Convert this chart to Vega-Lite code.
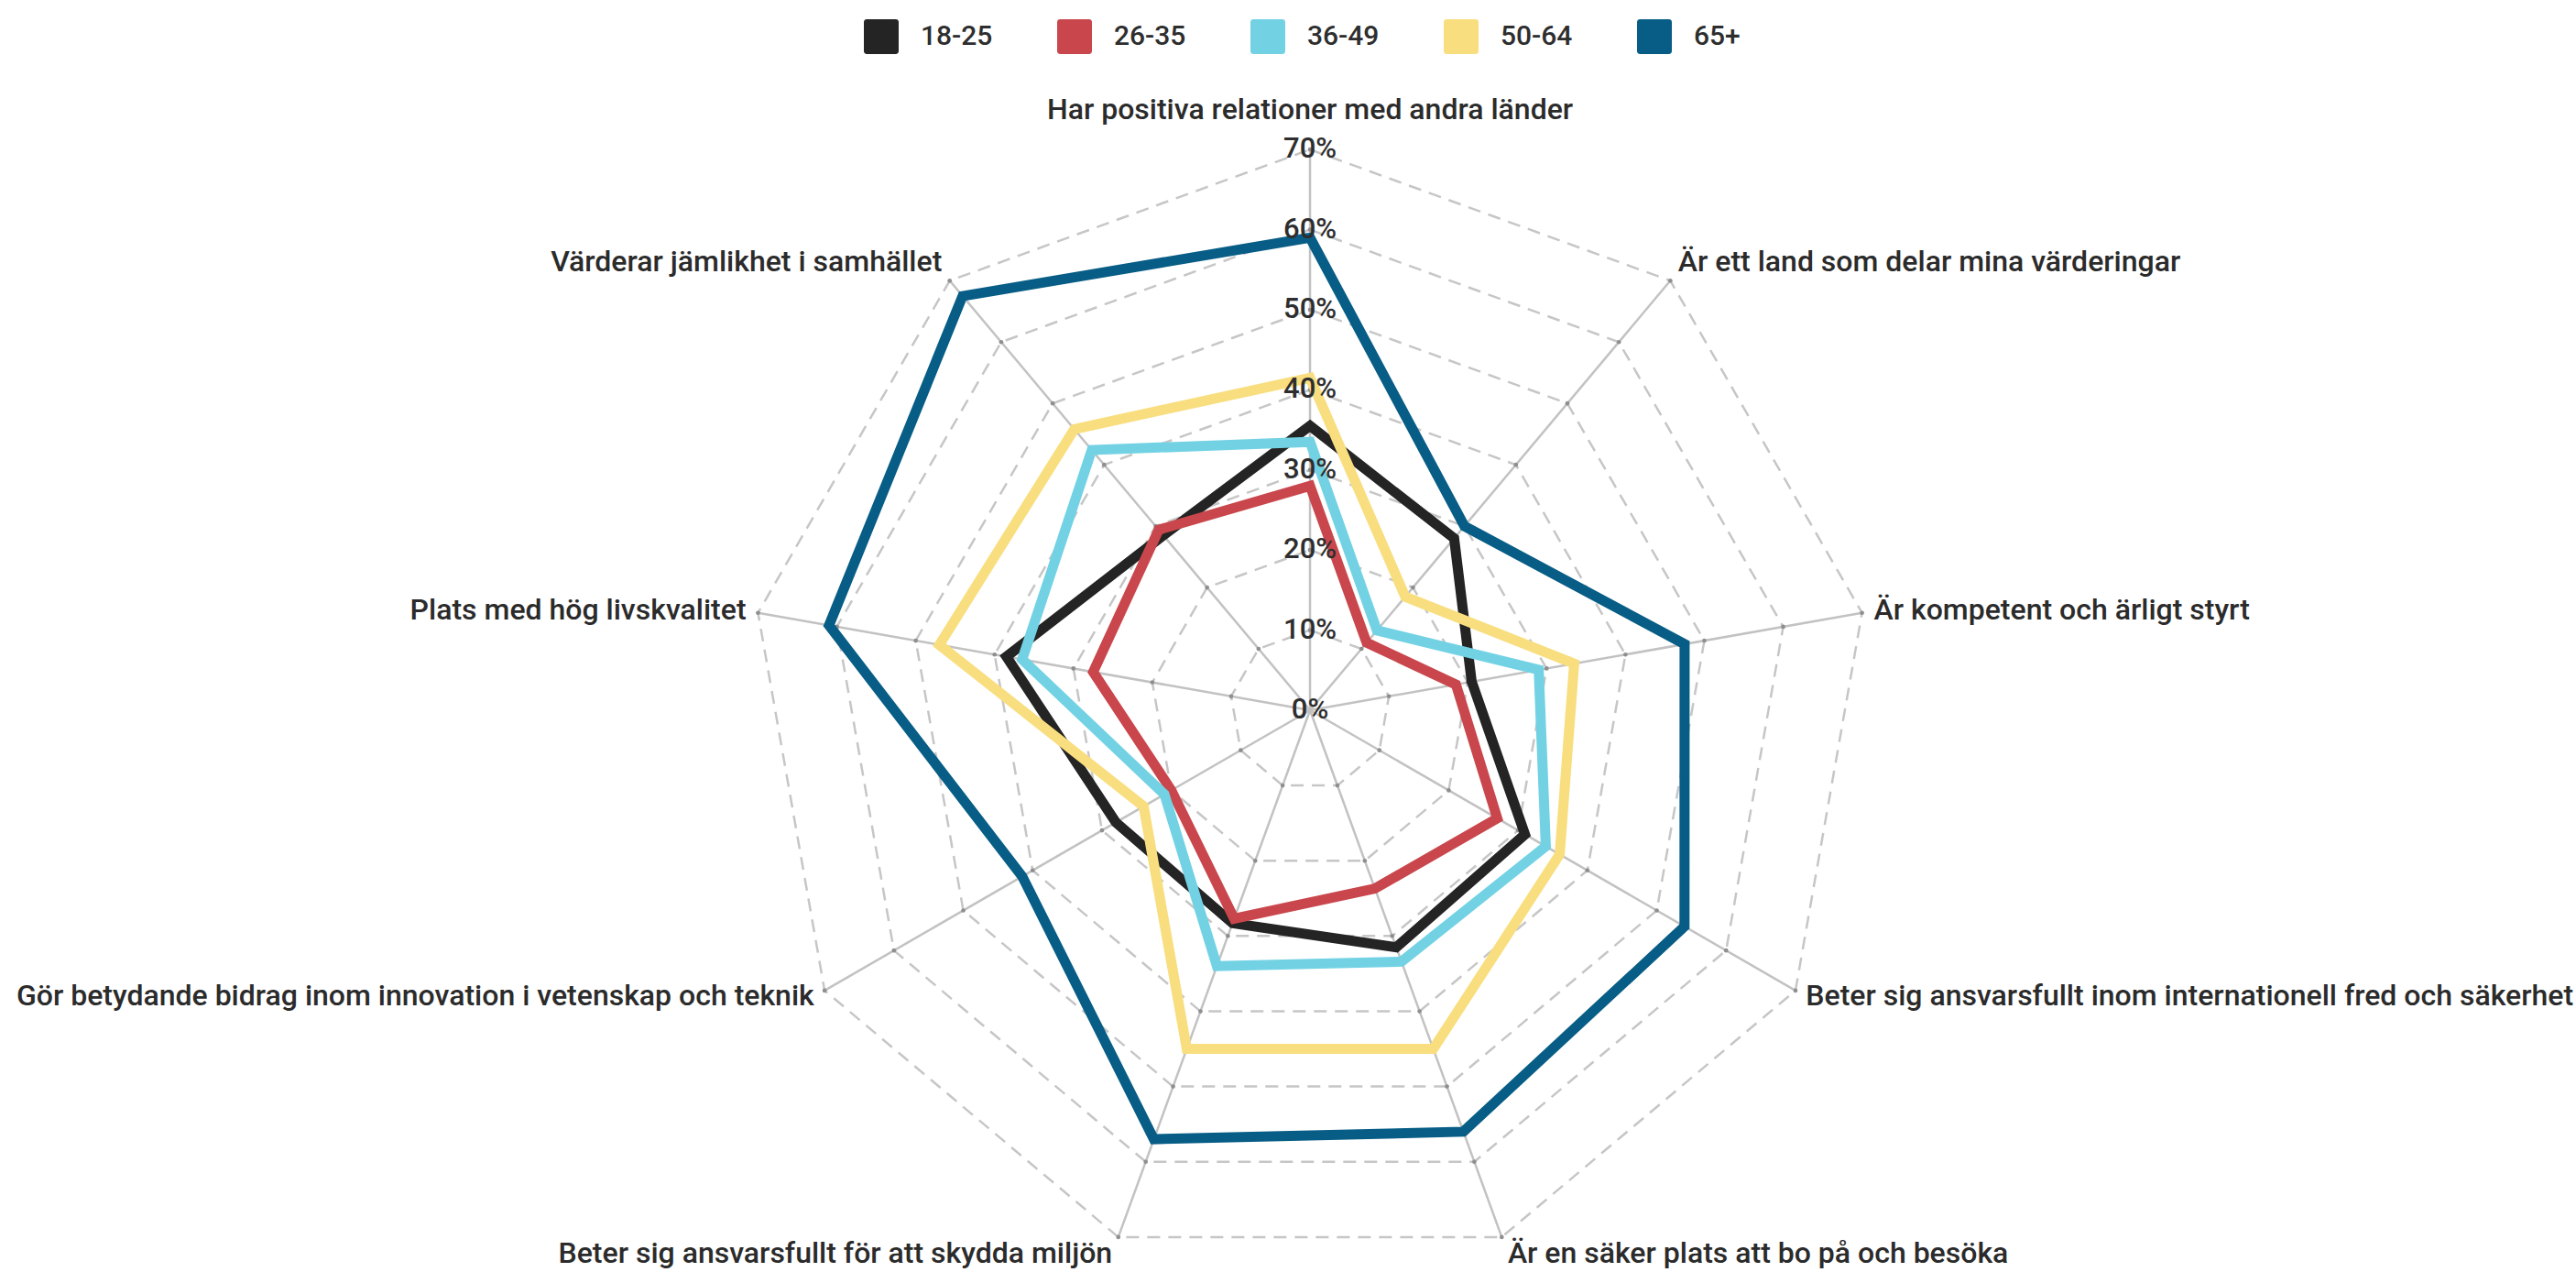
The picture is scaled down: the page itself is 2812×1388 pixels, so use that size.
{
  "$schema": "https://vega.github.io/schema/vega-lite/v6.json",
  "width": 2812,
  "height": 1388,
  "autosize": {"type": "none"},
  "padding": 0,
  "background": "white",
  "config": {"view": {"stroke": null}},
  "datasets": {
    "axes": [
      {"idx": 0, "label": "Har positiva relationer med andra länder", "levels": [10, 20, 30, 40, 50, 60, 70]},
      {"idx": 1, "label": "Är ett land som delar mina värderingar", "levels": [10, 20, 30, 40, 50, 60, 70]},
      {"idx": 2, "label": "Är kompetent och ärligt styrt", "levels": [10, 20, 30, 40, 50, 60, 70]},
      {"idx": 3, "label": "Beter sig ansvarsfullt inom internationell fred och säkerhet", "levels": [10, 20, 30, 40, 50, 60, 70]},
      {"idx": 4, "label": "Är en säker plats att bo på och besöka", "levels": [10, 20, 30, 40, 50, 60, 70]},
      {"idx": 5, "label": "Beter sig ansvarsfullt för att skydda miljön", "levels": [10, 20, 30, 40, 50, 60, 70]},
      {"idx": 6, "label": "Gör betydande bidrag inom innovation i vetenskap och teknik", "levels": [10, 20, 30, 40, 50, 60, 70]},
      {"idx": 7, "label": "Plats med hög livskvalitet", "levels": [10, 20, 30, 40, 50, 60, 70]},
      {"idx": 8, "label": "Värderar jämlikhet i samhället", "levels": [10, 20, 30, 40, 50, 60, 70]}
    ],
    "ticks": [
      {"level": 0}, {"level": 10}, {"level": 20}, {"level": 30},
      {"level": 40}, {"level": 50}, {"level": 60}, {"level": 70}
    ],
    "values": [
      {"age": "18-25", "axis": "Har positiva relationer med andra länder", "value": 35.5},
      {"age": "18-25", "axis": "Är ett land som delar mina värderingar", "value": 28},
      {"age": "18-25", "axis": "Är kompetent och ärligt styrt", "value": 20.5},
      {"age": "18-25", "axis": "Beter sig ansvarsfullt inom internationell fred och säkerhet", "value": 31},
      {"age": "18-25", "axis": "Är en säker plats att bo på och besöka", "value": 31.5},
      {"age": "18-25", "axis": "Beter sig ansvarsfullt för att skydda miljön", "value": 28.3},
      {"age": "18-25", "axis": "Gör betydande bidrag inom innovation i vetenskap och teknik", "value": 28},
      {"age": "18-25", "axis": "Plats med hög livskvalitet", "value": 38.5},
      {"age": "18-25", "axis": "Värderar jämlikhet i samhället", "value": 28.5},
      {"age": "26-35", "axis": "Har positiva relationer med andra länder", "value": 28},
      {"age": "26-35", "axis": "Är ett land som delar mina värderingar", "value": 11},
      {"age": "26-35", "axis": "Är kompetent och ärligt styrt", "value": 18.5},
      {"age": "26-35", "axis": "Beter sig ansvarsfullt inom internationell fred och säkerhet", "value": 27},
      {"age": "26-35", "axis": "Är en säker plats att bo på och besöka", "value": 23.7},
      {"age": "26-35", "axis": "Beter sig ansvarsfullt för att skydda miljön", "value": 27.7},
      {"age": "26-35", "axis": "Gör betydande bidrag inom innovation i vetenskap och teknik", "value": 20},
      {"age": "26-35", "axis": "Plats med hög livskvalitet", "value": 27.5},
      {"age": "26-35", "axis": "Värderar jämlikhet i samhället", "value": 29.4},
      {"age": "36-49", "axis": "Har positiva relationer med andra länder", "value": 33.5},
      {"age": "36-49", "axis": "Är ett land som delar mina värderingar", "value": 13},
      {"age": "36-49", "axis": "Är kompetent och ärligt styrt", "value": 29},
      {"age": "36-49", "axis": "Beter sig ansvarsfullt inom internationell fred och säkerhet", "value": 34},
      {"age": "36-49", "axis": "Är en säker plats att bo på och besöka", "value": 33.4},
      {"age": "36-49", "axis": "Beter sig ansvarsfullt för att skydda miljön", "value": 34},
      {"age": "36-49", "axis": "Gör betydande bidrag inom innovation i vetenskap och teknik", "value": 21},
      {"age": "36-49", "axis": "Plats med hög livskvalitet", "value": 36.5},
      {"age": "36-49", "axis": "Värderar jämlikhet i samhället", "value": 42.4},
      {"age": "50-64", "axis": "Har positiva relationer med andra länder", "value": 41.5},
      {"age": "50-64", "axis": "Är ett land som delar mina värderingar", "value": 18.5},
      {"age": "50-64", "axis": "Är kompetent och ärligt styrt", "value": 33.5},
      {"age": "50-64", "axis": "Beter sig ansvarsfullt inom internationell fred och säkerhet", "value": 36},
      {"age": "50-64", "axis": "Är en säker plats att bo på och besöka", "value": 45},
      {"age": "50-64", "axis": "Beter sig ansvarsfullt för att skydda miljön", "value": 45},
      {"age": "50-64", "axis": "Gör betydande bidrag inom innovation i vetenskap och teknik", "value": 24},
      {"age": "50-64", "axis": "Plats med hög livskvalitet", "value": 47},
      {"age": "50-64", "axis": "Värderar jämlikhet i samhället", "value": 45.8},
      {"age": "65+", "axis": "Har positiva relationer med andra länder", "value": 59},
      {"age": "65+", "axis": "Är ett land som delar mina värderingar", "value": 30},
      {"age": "65+", "axis": "Är kompetent och ärligt styrt", "value": 47.5},
      {"age": "65+", "axis": "Beter sig ansvarsfullt inom internationell fred och säkerhet", "value": 54},
      {"age": "65+", "axis": "Är en säker plats att bo på och besöka", "value": 56},
      {"age": "65+", "axis": "Beter sig ansvarsfullt för att skydda miljön", "value": 57},
      {"age": "65+", "axis": "Gör betydande bidrag inom innovation i vetenskap och teknik", "value": 41.5},
      {"age": "65+", "axis": "Plats med hög livskvalitet", "value": 61},
      {"age": "65+", "axis": "Värderar jämlikhet i samhället", "value": 67.5}
    ]
  },
  "layer": [
    {
      "data": {"name": "axes"},
      "transform": [
        {"flatten": ["levels"], "as": ["level"]},
        {"calculate": "datum.idx*2*PI/9", "as": "ang"},
        {"calculate": "datum.level*sin(datum.ang)", "as": "px"},
        {"calculate": "datum.level*cos(datum.ang)", "as": "py"}
      ],
      "mark": {"type": "line", "interpolate": "linear-closed", "color": "#c6c6c6", "strokeWidth": 2.5, "strokeDash": [14, 9]},
      "encoding": {
        "x": {"field": "px", "type": "quantitative", "scale": {"domain": [-163.6, 158.1], "nice": false, "zero": false}, "axis": null},
        "y": {"field": "py", "type": "quantitative", "scale": {"domain": [-70.14, 88.67], "nice": false, "zero": false}, "axis": null},
        "detail": {"field": "level", "type": "nominal"},
        "order": {"field": "idx", "type": "quantitative"}
      }
    },
    {
      "data": {"name": "axes"},
      "transform": [
        {"calculate": "datum.idx*2*PI/9", "as": "ang"},
        {"calculate": "70*sin(datum.ang)", "as": "ex"},
        {"calculate": "70*cos(datum.ang)", "as": "ey"}
      ],
      "mark": {"type": "rule", "color": "#c2c2c2", "strokeWidth": 2.5},
      "encoding": {
        "x": {"field": "ex", "type": "quantitative", "scale": {"domain": [-163.6, 158.1], "nice": false, "zero": false}, "axis": null},
        "y": {"field": "ey", "type": "quantitative", "scale": {"domain": [-70.14, 88.67], "nice": false, "zero": false}, "axis": null},
        "x2": {"datum": 0},
        "y2": {"datum": 0}
      }
    },
    {
      "data": {"name": "axes"},
      "transform": [
        {"flatten": ["levels"], "as": ["level"]},
        {"calculate": "datum.idx*2*PI/9", "as": "ang"},
        {"calculate": "datum.level*sin(datum.ang)", "as": "px"},
        {"calculate": "datum.level*cos(datum.ang)", "as": "py"}
      ],
      "mark": {"type": "point", "filled": true, "size": 22, "color": "#8f8f8f", "opacity": 1},
      "encoding": {
        "x": {"field": "px", "type": "quantitative", "scale": {"domain": [-163.6, 158.1], "nice": false, "zero": false}, "axis": null},
        "y": {"field": "py", "type": "quantitative", "scale": {"domain": [-70.14, 88.67], "nice": false, "zero": false}, "axis": null}
      }
    },
    {
      "data": {"name": "values"},
      "transform": [
        {"lookup": "axis", "from": {"data": {"name": "axes"}, "key": "label", "fields": ["idx"]}},
        {"calculate": "datum.idx*2*PI/9", "as": "ang"},
        {"calculate": "datum.value*sin(datum.ang)", "as": "px"},
        {"calculate": "datum.value*cos(datum.ang)", "as": "py"}
      ],
      "mark": {"type": "line", "interpolate": "linear-closed", "strokeWidth": 11, "strokeJoin": "miter", "strokeMiterLimit": 10},
      "encoding": {
        "x": {"field": "px", "type": "quantitative", "scale": {"domain": [-163.6, 158.1], "nice": false, "zero": false}, "axis": null},
        "y": {"field": "py", "type": "quantitative", "scale": {"domain": [-70.14, 88.67], "nice": false, "zero": false}, "axis": null},
        "order": {"field": "idx", "type": "quantitative"},
        "color": {
          "field": "age",
          "type": "nominal",
          "sort": ["18-25", "26-35", "36-49", "50-64", "65+"],
          "scale": {"domain": ["18-25", "26-35", "36-49", "50-64", "65+"], "range": ["#242424", "#c9474c", "#72d2e4", "#f8de7e", "#075d85"]},
          "legend": {
            "orient": "none",
            "legendX": 943,
            "legendY": 21,
            "direction": "horizontal",
            "title": null,
            "padding": 0,
            "symbolType": "M -0.82 -1 L 0.82 -1 Q 1 -1 1 -0.82 L 1 0.82 Q 1 1 0.82 1 L -0.82 1 Q -1 1 -1 0.82 L -1 -0.82 Q -1 -1 -0.82 -1 Z",
            "symbolSize": 1444,
            "symbolStrokeWidth": 0,
            "symbolOpacity": 1,
            "labelFont": "Roboto",
            "labelFontSize": 30,
            "labelFontWeight": 500,
            "labelColor": "#2e2e2e",
            "labelOffset": 24,
            "columnPadding": 70,
            "encode": {"symbols": {"update": {"fill": {"scale": "color", "field": "value"}, "strokeWidth": {"value": 0}}}}
          }
        }
      }
    },
    {
      "data": {"name": "ticks"},
      "transform": [{"calculate": "datum.level + '%'", "as": "lbl"}],
      "mark": {"type": "text", "font": "Roboto", "fontWeight": 500, "fontSize": 31, "color": "#2e2e2e", "align": "center", "baseline": "middle"},
      "encoding": {
        "x": {"datum": 0, "type": "quantitative", "scale": {"domain": [-163.6, 158.1], "nice": false, "zero": false}, "axis": null},
        "y": {"field": "level", "type": "quantitative", "scale": {"domain": [-70.14, 88.67], "nice": false, "zero": false}, "axis": null},
        "text": {"field": "lbl"}
      }
    },
    {
      "data": {"name": "axes"},
      "transform": [
        {"filter": "datum.idx == 0"},
        {"calculate": "datum.idx*2*PI/9", "as": "ang"},
        {"calculate": "73*sin(datum.ang)", "as": "lx"},
        {"calculate": "73*cos(datum.ang)", "as": "ly"}
      ],
      "mark": {"type": "text", "font": "Roboto", "fontWeight": 500, "fontSize": 32, "color": "#2b2b2b", "align": "center", "baseline": "bottom"},
      "encoding": {
        "x": {"field": "lx", "type": "quantitative", "scale": {"domain": [-163.6, 158.1], "nice": false, "zero": false}, "axis": null},
        "y": {"field": "ly", "type": "quantitative", "scale": {"domain": [-70.14, 88.67], "nice": false, "zero": false}, "axis": null},
        "text": {"field": "label"}
      }
    },
    {
      "data": {"name": "axes"},
      "transform": [
        {"filter": "datum.idx == 1"},
        {"calculate": "datum.idx*2*PI/9", "as": "ang"},
        {"calculate": "71.5*sin(datum.ang)", "as": "lx"},
        {"calculate": "71.5*cos(datum.ang)", "as": "ly"}
      ],
      "mark": {"type": "text", "font": "Roboto", "fontWeight": 500, "fontSize": 32, "color": "#2b2b2b", "align": "left", "baseline": "alphabetic"},
      "encoding": {
        "x": {"field": "lx", "type": "quantitative", "scale": {"domain": [-163.6, 158.1], "nice": false, "zero": false}, "axis": null},
        "y": {"field": "ly", "type": "quantitative", "scale": {"domain": [-70.14, 88.67], "nice": false, "zero": false}, "axis": null},
        "text": {"field": "label"}
      }
    },
    {
      "data": {"name": "axes"},
      "transform": [
        {"filter": "datum.idx == 2 || datum.idx == 3"},
        {"calculate": "datum.idx*2*PI/9", "as": "ang"},
        {"calculate": "71.5*sin(datum.ang)", "as": "lx"},
        {"calculate": "71.5*cos(datum.ang)", "as": "ly"}
      ],
      "mark": {"type": "text", "font": "Roboto", "fontWeight": 500, "fontSize": 32, "color": "#2b2b2b", "align": "left", "baseline": "middle"},
      "encoding": {
        "x": {"field": "lx", "type": "quantitative", "scale": {"domain": [-163.6, 158.1], "nice": false, "zero": false}, "axis": null},
        "y": {"field": "ly", "type": "quantitative", "scale": {"domain": [-70.14, 88.67], "nice": false, "zero": false}, "axis": null},
        "text": {"field": "label"}
      }
    },
    {
      "data": {"name": "axes"},
      "transform": [
        {"filter": "datum.idx == 4"},
        {"calculate": "datum.idx*2*PI/9", "as": "ang"},
        {"calculate": "72.2*sin(datum.ang)", "as": "lx"},
        {"calculate": "72.2*cos(datum.ang)", "as": "ly"}
      ],
      "mark": {"type": "text", "font": "Roboto", "fontWeight": 500, "fontSize": 32, "color": "#2b2b2b", "align": "left", "baseline": "middle"},
      "encoding": {
        "x": {"field": "lx", "type": "quantitative", "scale": {"domain": [-163.6, 158.1], "nice": false, "zero": false}, "axis": null},
        "y": {"field": "ly", "type": "quantitative", "scale": {"domain": [-70.14, 88.67], "nice": false, "zero": false}, "axis": null},
        "text": {"field": "label"}
      }
    },
    {
      "data": {"name": "axes"},
      "transform": [
        {"filter": "datum.idx == 5"},
        {"calculate": "datum.idx*2*PI/9", "as": "ang"},
        {"calculate": "72.2*sin(datum.ang)", "as": "lx"},
        {"calculate": "72.2*cos(datum.ang)", "as": "ly"}
      ],
      "mark": {"type": "text", "font": "Roboto", "fontWeight": 500, "fontSize": 32, "color": "#2b2b2b", "align": "right", "baseline": "middle"},
      "encoding": {
        "x": {"field": "lx", "type": "quantitative", "scale": {"domain": [-163.6, 158.1], "nice": false, "zero": false}, "axis": null},
        "y": {"field": "ly", "type": "quantitative", "scale": {"domain": [-70.14, 88.67], "nice": false, "zero": false}, "axis": null},
        "text": {"field": "label"}
      }
    },
    {
      "data": {"name": "axes"},
      "transform": [
        {"filter": "datum.idx == 6 || datum.idx == 7"},
        {"calculate": "datum.idx*2*PI/9", "as": "ang"},
        {"calculate": "71.5*sin(datum.ang)", "as": "lx"},
        {"calculate": "71.5*cos(datum.ang)", "as": "ly"}
      ],
      "mark": {"type": "text", "font": "Roboto", "fontWeight": 500, "fontSize": 32, "color": "#2b2b2b", "align": "right", "baseline": "middle"},
      "encoding": {
        "x": {"field": "lx", "type": "quantitative", "scale": {"domain": [-163.6, 158.1], "nice": false, "zero": false}, "axis": null},
        "y": {"field": "ly", "type": "quantitative", "scale": {"domain": [-70.14, 88.67], "nice": false, "zero": false}, "axis": null},
        "text": {"field": "label"}
      }
    },
    {
      "data": {"name": "axes"},
      "transform": [
        {"filter": "datum.idx == 8"},
        {"calculate": "datum.idx*2*PI/9", "as": "ang"},
        {"calculate": "71.5*sin(datum.ang)", "as": "lx"},
        {"calculate": "71.5*cos(datum.ang)", "as": "ly"}
      ],
      "mark": {"type": "text", "font": "Roboto", "fontWeight": 500, "fontSize": 32, "color": "#2b2b2b", "align": "right", "baseline": "alphabetic"},
      "encoding": {
        "x": {"field": "lx", "type": "quantitative", "scale": {"domain": [-163.6, 158.1], "nice": false, "zero": false}, "axis": null},
        "y": {"field": "ly", "type": "quantitative", "scale": {"domain": [-70.14, 88.67], "nice": false, "zero": false}, "axis": null},
        "text": {"field": "label"}
      }
    }
  ]
}
